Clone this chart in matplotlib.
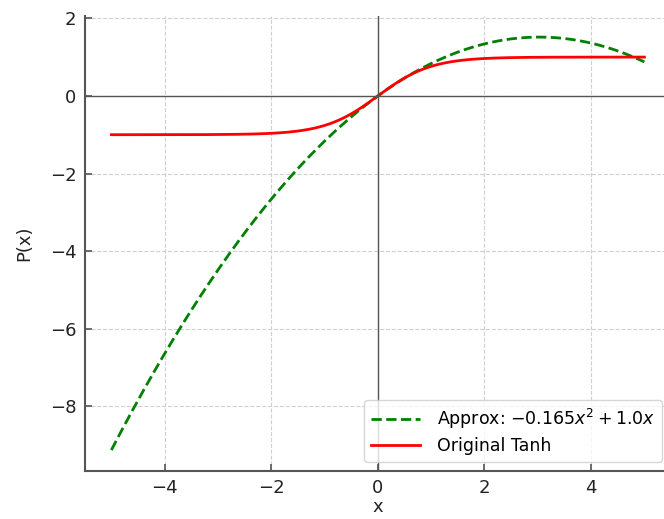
import numpy as np
import matplotlib
matplotlib.use("Agg")
import matplotlib.pyplot as plt

# approximation coefficients: P(x) = a*x^2 + b*x
quad_coef = [-0.165, 1.0]
x_range = [-5, 5]
n_points = 400

x = np.linspace(x_range[0], x_range[1], n_points)
approx = quad_coef[0] * x**2 + quad_coef[1] * x
tanh_vals = np.tanh(x)

approx_label = r"Approx: $-0.165x^2 + 1.0x$"
tanh_label = "Original Tanh"

fig = plt.figure(figsize=(6.64, 5.19), dpi=100)
ax = fig.add_axes([0.1276, 0.0931, 0.883, 0.8752])

ax.plot(x, approx, "--", color="green", linewidth=2, label=approx_label)
ax.plot(x, tanh_vals, color="red", linewidth=2, label=tanh_label)

ax.axhline(0, color="#555555", linewidth=1)
ax.axvline(0, color="#555555", linewidth=1)

ax.grid(True, linestyle="--", color="#d0d0d0", linewidth=0.8)
ax.set_axisbelow(True)

for side in ["top", "right"]:
    ax.spines[side].set_visible(False)
for side in ["left", "bottom"]:
    ax.spines[side].set_color("#555555")
    ax.spines[side].set_linewidth(1.5)

ax.tick_params(direction="in", length=5, width=1.2, color="#555555",
               labelsize=13, labelcolor="#222222", pad=6)
ax.set_xticks([-4, -2, 0, 2, 4])
ax.set_yticks([-8, -6, -4, -2, 0, 2])

ax.set_xlabel("x", fontsize=13, color="#222222", labelpad=1)
ax.set_ylabel("P(x)", fontsize=13, color="#222222", labelpad=12)

ax.legend(loc="lower right", fontsize=12.5, handlelength=2.8,
          handletextpad=1.0, labelspacing=0.35, borderpad=0.4)

fig.savefig("out.png", dpi=100)
